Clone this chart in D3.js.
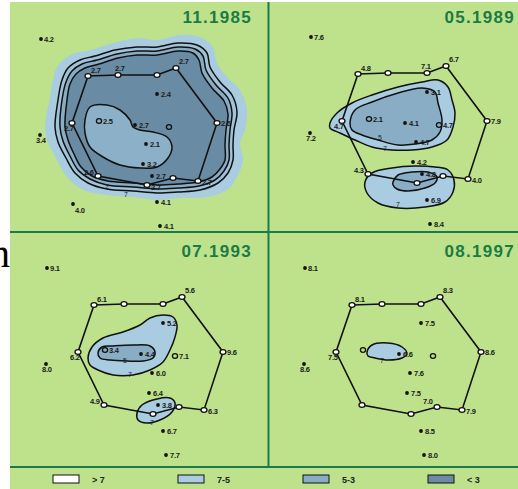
<!DOCTYPE html>
<html><head><meta charset="utf-8">
<script src="https://cdn.jsdelivr.net/npm/d3@7"></script>
<style>body{margin:0;background:#fff;} svg{display:block}</style>
</head><body><svg id="c" width="518" height="489"></svg>
<script>
// ---------------- DATA ----------------
const periods = ["11.1985", "05.1989", "07.1993", "08.1997"];

// station locations (map units)
const ringStations = [[88,76],[118,75],[157,75],[176,68],[217,123],[198,181],[173,178],[147,185],[98,176],[72,123]];
const innerStations = [[157,94],[99,121],[135,125],[169,127],[146,144],[143,164],[152,176]];
const outerStations = [[41,39],[40,135],[73,204],[157,202],[160,226]];

// station values per period (null = no station shown)
const ringValues = [
  ["2.7","2.7","","2.7","2.6","2.7","","2.7","2.6","2.7"],
  ["4.8","","7.1","6.7","7.9","4.0","","","4.3","4.7"],
  ["6.1","","","5.6","9.6","6.3","","","4.9","6.2"],
  ["8.1","","","8.3","8.6","7.9","7.0","","","7.5"]
];
const innerValues = [
  ["2.4","2.5","2.7","","2.1","3.2","2.7"],
  ["3.1","2.1","4.1","4.7","4.7","4.2","4.8"],
  ["5.2","3.4","4.4","7.1","6.0","6.4","3.8"],
  ["7.5","","6.6","","7.6","7.5",null]
];
const outerValues = [
  ["4.2","3.4","4.0","4.1","4.1"],
  ["7.6","7.2",null,"6.9","8.4"],
  ["9.1","8.0",null,"6.7","7.7"],
  ["8.1","8.6",null,"8.5","8.0"]
];

// contour classes
const legendLabels = ["> 7", "7-5", "5-3", "< 3"];

// contour outlines (map units), per period
const contours1985 = [
  {cls:"light", edge:false, pts:[[45,127],[50,97],[53,80],[57,67],[70,55],[90,50],[113,43],[137,38],[157,40],[180,35],[200,37],[213,47],[217,63],[227,77],[240,90],[247,110],[245,130],[240,143],[243,160],[237,177],[227,190],[207,197],[180,198],[157,200],[133,197],[107,195],[83,190],[67,177],[57,160],[47,140]]},
  {cls:"light2", edge:true, pts:[[55,127],[58,100],[62,80],[68,68],[80,60],[95,56],[115,50],[137,47],[157,47],[178,43],[197,45],[207,53],[210,67],[220,82],[232,95],[237,112],[234,130],[233,145],[233,160],[228,173],[218,183],[200,190],[178,192],[157,193],[133,191],[107,189],[88,183],[75,173],[66,158],[58,142]]},
  {cls:"mid", edge:true, pts:[[60,127],[62,100],[66,82],[72,71],[82,64],[97,60],[117,54],[137,51],[157,51],[178,47],[195,49],[203,56],[206,70],[216,85],[228,98],[232,113],[230,130],[229,145],[229,160],[224,171],[215,180],[199,186],[178,188],[157,189],[133,187],[107,185],[90,179],[78,170],[70,156],[63,141]]},
  {cls:"dark", edge:true, pts:[[65,127],[67,100],[70,84],[76,74],[85,68],[99,64],[118,58],[137,55],[157,55],[178,51],[193,53],[199,60],[202,73],[212,88],[224,101],[228,114],[226,130],[225,145],[225,160],[220,169],[212,177],[198,182],[178,184],[157,185],[133,183],[108,181],[92,176],[81,167],[74,154],[68,140]]},
  {cls:"kidney", edge:true, pts:[[90,107],[107,105],[120,110],[130,120],[133,127],[140,130],[153,132],[167,137],[172,147],[168,158],[157,167],[140,168],[120,165],[103,157],[90,147],[85,133],[85,120]]}
];
const contours1989 = [
  {cls:"light", edge:true, pts:[[60,125],[67,115],[82,105],[102,97],[128,89],[152,84],[168,82],[178,89],[182,102],[185,115],[183,129],[177,142],[162,149],[142,152],[122,152],[102,149],[85,142],[70,135],[60,130]]},
  {cls:"mid", edge:true, pts:[[80,125],[85,112],[102,104],[128,95],[152,90],[165,94],[168,105],[172,122],[170,134],[162,142],[145,146],[128,147],[108,142],[92,137],[82,132]]},
  {cls:"light", edge:true, pts:[[95,184],[102,175],[122,170],[145,168],[165,169],[178,172],[184,182],[183,194],[175,204],[155,209],[128,210],[108,205],[97,195]]},
  {cls:"mid", edge:true, pts:[[123,184],[128,177],[142,174],[158,174],[167,179],[165,185],[155,190],[138,193],[127,191],[123,187]]}
];
const contours1993 = [
  {cls:"light", edge:true, pts:[[82,129],[86,118],[97,109],[117,103],[134,96],[144,89],[157,86],[167,88],[171,96],[169,108],[164,121],[157,133],[144,141],[127,146],[107,146],[92,141],[84,136]]},
  {cls:"mid", edge:true, pts:[[92,124],[96,118],[107,117],[127,116],[144,117],[149,123],[147,129],[137,132],[121,132],[104,131],[94,129]]},
  {cls:"light", edge:true, pts:[[131,184],[136,176],[151,170],[164,169],[169,174],[166,183],[154,191],[141,194],[132,191]]}
];
const contours1997 = [
  {cls:"light", edge:true, pts:[[103,123],[108,116],[124,114],[138,118],[143,125],[138,129],[124,131],[111,129],[104,127]]}
];
const contourSets = [contours1985, contours1989, contours1993, contours1997];

// contour value labels [text, x, y] in map units
const contourLabels = [
  [["2",107,189],["7",126,197]],
  [["5",110,142],["7",115,153],["7",128,209]],
  [["5",119,134],["7",124,148],["7",146,196]],
  [["7",118,134]]
];

// ---------------- LAYOUT / STYLE ----------------
const BG = "#bee28b", LINE = "#1d7a4a", TITLE = "#1b7a45";
const fills = {light:"#a9cce1", light2:"#a0c3da", mid:"#89adc5", dark:"#6a8ba4", kidney:"#8cb0c8"};
const legendFills = ["#ffffff", "#a9cce1", "#89adc5", "#6a8ba4"];
const panelBox = [[10,2,258,230],[269,2,249,230],[10,233,258,234],[269,233,249,234]];
const panelShift = [[0,0],[270,-2],[6,229],[264,229]];
const titlePos = [[252,23],[515,23],[252,257],[515,257]];
const innerShape = ["dot","ring","dot","ring","dot","dot","dot"];
const ringLabelOff = [[3,-3],[-3,-4],[-6,-4],[3,-4],[4,3],[4,4],[-14,-3],[4,5],[-14,-1],[-8,8]];
const innerLabelOff = [[4,3],[4,3],[4,3],[4,3],[4,3],[4,3],[4,3]];
const outerLabelOff = [[3,3],[-4,8],[2,9],[4,3],[4,3]];

const svg = d3.select("#c");
const defs = svg.append("defs");

svg.append("text").attr("x",-10).attr("y",267).text("n")
  .attr("font-family","Liberation Serif").attr("font-size",40).attr("fill","#000");
svg.append("rect").attr("x",10).attr("y",2).attr("width",508).attr("height",487).attr("fill",BG);

const labelFont = "Liberation Sans";

periods.forEach((p, i) => {
  const [bx,by,bw,bh] = panelBox[i];
  defs.append("clipPath").attr("id","clip"+i).append("rect")
    .attr("x",bx).attr("y",by).attr("width",bw).attr("height",bh);
  const g = svg.append("g").attr("clip-path",`url(#clip${i})`);
  const [sx, sy] = panelShift[i];
  const x = d3.scaleLinear().domain([0,260]).range([sx, sx+260]);
  const y = d3.scaleLinear().domain([0,240]).range([sy, sy+240]);

  const smooth = d3.line().x(d=>x(d[0])).y(d=>y(d[1])).curve(d3.curveCatmullRomClosed.alpha(0.5));
  contourSets[i].forEach(c => {
    g.append("path").attr("d", smooth(c.pts))
      .attr("fill", fills[c.cls])
      .attr("stroke", c.edge ? "#111" : "none")
      .attr("stroke-width", 1.5);
  });

  contourLabels[i].forEach(l => {
    g.append("text").attr("x",x(l[1])).attr("y",y(l[2])).text(l[0])
      .attr("font-family",labelFont).attr("font-size",7).attr("fill","#222").attr("text-anchor","middle");
  });

  // network polygon
  const poly = d3.line().x(d=>x(d[0])).y(d=>y(d[1])).curve(d3.curveLinearClosed);
  g.append("path").attr("d", poly(ringStations)).attr("fill","none")
    .attr("stroke","#111").attr("stroke-width",1.6);

  const lbl = (px,py,t) => g.append("text").attr("x",px).attr("y",py).text(t)
      .attr("font-family",labelFont).attr("font-size",7.5).attr("font-weight","bold")
      .attr("fill","#1a1a1a").attr("letter-spacing",-0.2);

  ringStations.forEach((s,k) => {
    g.append("ellipse").attr("cx",x(s[0])).attr("cy",y(s[1])).attr("rx",3).attr("ry",2.4)
      .attr("fill","#fff").attr("stroke","#111").attr("stroke-width",1.3);
    const v = ringValues[i][k];
    if (v) lbl(x(s[0])+ringLabelOff[k][0], y(s[1])+ringLabelOff[k][1], v);
  });
  innerStations.forEach((s,k) => {
    const v = innerValues[i][k];
    if (v === null) return;
    if (innerShape[k] === "ring") {
      g.append("ellipse").attr("cx",x(s[0])).attr("cy",y(s[1])).attr("rx",2.6).attr("ry",2.3)
        .attr("fill","none").attr("stroke","#111").attr("stroke-width",1.3);
    } else {
      g.append("circle").attr("cx",x(s[0])).attr("cy",y(s[1])).attr("r",1.9).attr("fill","#111");
    }
    if (v) lbl(x(s[0])+innerLabelOff[k][0], y(s[1])+innerLabelOff[k][1], v);
  });
  outerStations.forEach((s,k) => {
    const v = outerValues[i][k];
    if (v === null) return;
    g.append("circle").attr("cx",x(s[0])).attr("cy",y(s[1])).attr("r",1.9).attr("fill","#111");
    if (v) lbl(x(s[0])+outerLabelOff[k][0], y(s[1])+outerLabelOff[k][1], v);
  });

  svg.append("text").attr("x",titlePos[i][0]).attr("y",titlePos[i][1]).text(p)
    .attr("text-anchor","end").attr("font-family","Liberation Sans").attr("font-weight","bold")
    .attr("font-size",17).attr("letter-spacing",1.3).attr("fill",TITLE);
});

// frame lines
svg.append("line").attr("x1",10).attr("x2",518).attr("y1",232).attr("y2",232).attr("stroke",LINE).attr("stroke-width",2);
svg.append("line").attr("x1",10).attr("x2",518).attr("y1",467).attr("y2",467).attr("stroke",LINE).attr("stroke-width",2);
svg.append("line").attr("x1",268.5).attr("x2",268.5).attr("y1",2).attr("y2",467).attr("stroke",LINE).attr("stroke-width",2);

// legend
const lx = d3.scalePoint().domain(legendLabels).range([53,428]);
const lg = svg.append("g");
legendLabels.forEach((t,k) => {
  lg.append("rect").attr("x",lx(t)).attr("y",475).attr("width",26).attr("height",8)
    .attr("fill",legendFills[k]).attr("stroke","#111").attr("stroke-width",1);
  lg.append("text").attr("x",lx(t)+39).attr("y",483).text(t)
    .attr("font-family",labelFont).attr("font-size",9).attr("font-weight","bold").attr("fill","#222");
});
</script></body></html>
